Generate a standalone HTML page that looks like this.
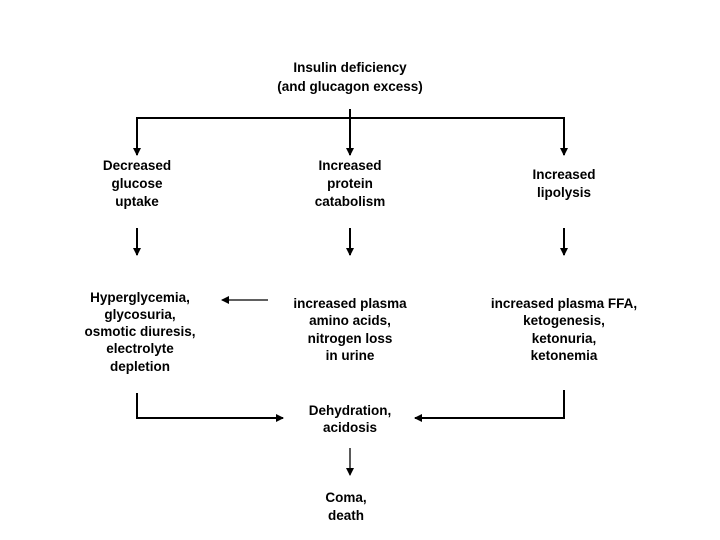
<!DOCTYPE html>
<html><head><style>body{margin:0;background:#fff}svg{display:block}text{font-family:"Liberation Sans",Arial,sans-serif;font-weight:bold;font-size:13.5px;fill:#000;text-anchor:middle}</style></head><body>
<svg width="720" height="540" viewBox="0 0 720 540">
<defs><marker id="a" markerWidth="8" markerHeight="8" refX="7" refY="4" orient="auto" markerUnits="userSpaceOnUse"><path d="M0,0 L8,4 L0,8z" fill="#000"/></marker></defs>
<g stroke="#000" stroke-width="2" fill="none">
<line x1="350" y1="109" x2="350" y2="155" marker-end="url(#a)"/>
<polyline points="137,155 137,118 564,118 564,155" stroke-width="2"/>
<line x1="137" y1="140" x2="137" y2="155" marker-end="url(#a)"/>
<line x1="564" y1="140" x2="564" y2="155" marker-end="url(#a)"/>
<line x1="137" y1="228" x2="137" y2="255" marker-end="url(#a)"/>
<line x1="350" y1="228" x2="350" y2="255" marker-end="url(#a)"/>
<line x1="564" y1="228" x2="564" y2="255" marker-end="url(#a)"/>
<line x1="268" y1="300" x2="222" y2="300" stroke-width="1.3" marker-end="url(#a)"/>
<polyline points="137,393 137,418 283,418" marker-end="url(#a)"/>
<polyline points="564,390 564,418 415,418" marker-end="url(#a)"/>
<line x1="350" y1="448" x2="350" y2="475" stroke-width="1.3" marker-end="url(#a)"/>
</g>
<text x="350" y="72">Insulin deficiency</text>
<text x="350" y="91">(and glucagon excess)</text>
<text x="137" y="170">Decreased</text><text x="137" y="188">glucose</text><text x="137" y="206">uptake</text>
<text x="350" y="170">Increased</text><text x="350" y="188">protein</text><text x="350" y="206">catabolism</text>
<text x="564" y="179">Increased</text><text x="564" y="197">lipolysis</text>
<text x="140" y="302">Hyperglycemia,</text><text x="140" y="319">glycosuria,</text><text x="140" y="336">osmotic diuresis,</text><text x="140" y="353">electrolyte</text><text x="140" y="371">depletion</text>
<text x="350" y="308">increased plasma</text><text x="350" y="325">amino acids,</text><text x="350" y="343">nitrogen loss</text><text x="350" y="360">in urine</text>
<text x="564" y="308">increased plasma FFA,</text><text x="564" y="325">ketogenesis,</text><text x="564" y="343">ketonuria,</text><text x="564" y="360">ketonemia</text>
<text x="350" y="415">Dehydration,</text><text x="350" y="432">acidosis</text>
<text x="346" y="502">Coma,</text><text x="346" y="520">death</text>
</svg></body></html>
